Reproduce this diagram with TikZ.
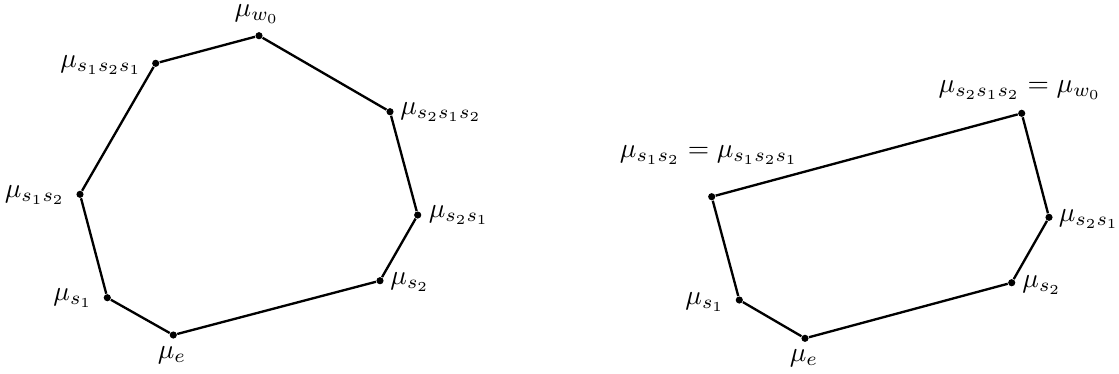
\documentclass[tikz,border=0pt]{standalone}
\begin{document}
\begin{tikzpicture}[x=0.3636pt,y=-0.3636pt,
  vtx/.style={circle,fill=black,inner sep=0pt,minimum size=2.6pt},
  lbl/.style={inner sep=0pt},
  edge/.style={line width=0.85pt,line join=round}]
\useasboundingbox (0,0) rectangle (1119,373);
% left polygon
\node[vtx] (Le)   at (173.3,335) {};
\node[vtx] (Ls1)  at (107.3,297.7) {};
\node[vtx] (Ls12) at (80,194.3) {};
\node[vtx] (Ls121) at (155.7,63.3) {};
\node[vtx] (Lw0)  at (259,35.7) {};
\node[vtx] (Ls212) at (390,111.7) {};
\node[vtx] (Ls21) at (417.7,215) {};
\node[vtx] (Ls2)  at (380,280.7) {};
\draw[edge] (Le) -- (Ls1) -- (Ls12) -- (Ls121) -- (Lw0) -- (Ls212) -- (Ls21) -- (Ls2) -- (Le);
\node[lbl] (tLe) at (172,355) {$\mu_e$};
\node[lbl] (tLs1) at (73,298) {$\mu_{s_1}$};
\node[lbl] (tLs12) at (35,195) {$\mu_{s_1s_2}$};
\node[lbl] (tLs121) at (101,65) {$\mu_{s_1s_2s_1}$};
\node[lbl] (tLw0) at (257,14) {$\mu_{w_0}$};
\node[lbl] (tLs212) at (441,112) {$\mu_{s_2s_1s_2}$};
\node[lbl] (tLs21) at (459,215) {$\mu_{s_2s_1}$};
\node[lbl] (tLs2) at (410,282) {$\mu_{s_2}$};
% right polygon
\node[vtx] (Re)   at (805,338.3) {};
\node[vtx] (Rs1)  at (739.3,300) {};
\node[vtx] (Rs12) at (711.7,196.7) {};
\node[vtx] (Rw0)  at (1021.7,113.3) {};
\node[vtx] (Rs21) at (1049,217.3) {};
\node[vtx] (Rs2)  at (1011.7,282.7) {};
\draw[edge] (Re) -- (Rs1) -- (Rs12) -- (Rw0) -- (Rs21) -- (Rs2) -- (Re);
\node[lbl] (tRe) at (804,358) {$\mu_e$};
\node[lbl] (tRs1) at (705,302) {$\mu_{s_1}$};
\node[lbl] (tRs12) at (709,155) {$\mu_{s_1s_2}=\mu_{s_1s_2s_1}$};
\node[lbl] (tRw0) at (1020,90) {$\mu_{s_2s_1s_2}=\mu_{w_0}$};
\node[lbl] (tRs21) at (1089,219) {$\mu_{s_2s_1}$};
\node[lbl] (tRs2) at (1042,285) {$\mu_{s_2}$};
\end{tikzpicture}
\end{document}
